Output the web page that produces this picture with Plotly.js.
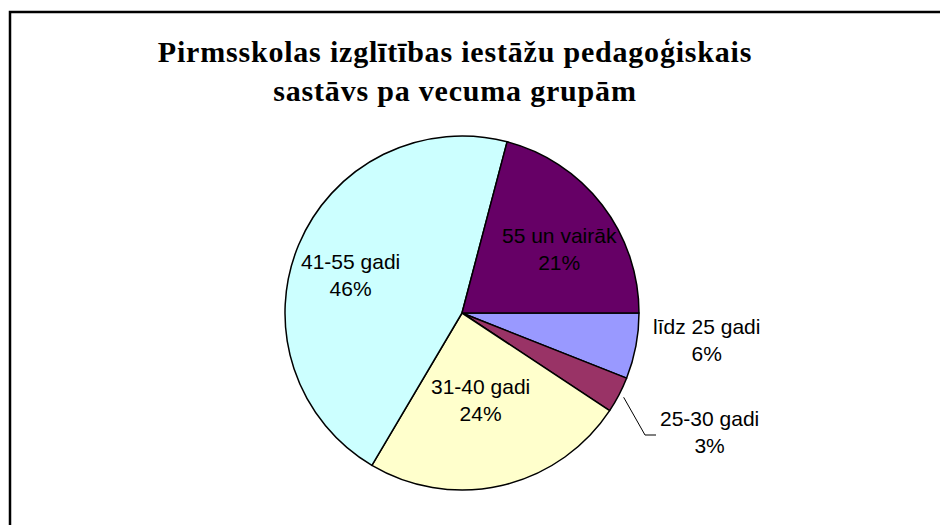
<!DOCTYPE html>
<html>
<head>
<meta charset="utf-8">
<script src="https://cdn.plot.ly/plotly-3.0.1.min.js"></script>
<style>
html,body{margin:0;padding:0;background:#fff;}
#chart{width:940px;height:525px;}
#chart .gtitle{letter-spacing:0.8px;}
</style>
</head>
<body>
<div id="chart"></div>
<script>
// ---- data ----
const categories = ['līdz 25 gadi', '25-30 gadi', '31-40 gadi', '41-55 gadi', '55 un vairāk'];
const shares = [6.0, 3.3, 24.2, 45.6, 20.9];
const sliceColors = ['#9999FF', '#993366', '#FFFFCC', '#CCFFFF', '#660066'];
const chartTitle = 'Pirmsskolas izglītības iestāžu pedagoģiskais<br>sastāvs pa vecuma grupām';

// ---- layout geometry (pixels) ----
const W = 940, H = 525;
const CX = 462, CY = 313, R = 177;
const ROT = 90; // first slice starts at 3 o'clock, clockwise
// label placement: radius factor and angle offset (deg) relative to slice mid-angle
const labelPlace = [
  {r: 1.39, da: -4.5},
  {r: 1.55, da: -1.9},
  {r: 0.50, da: 1.2},
  {r: 0.663, da: -3.8},
  {r: 0.657, da: 4.2}
];
const leaderIndex = 1;

const px = x => x / W;
const py = y => 1 - y / H;

const total = shares.reduce((a, b) => a + b, 0);
let acc = 0;
const mids = shares.map(v => {
  const start = ROT + acc / total * 360;
  acc += v;
  const end = ROT + acc / total * 360;
  return (start + end) / 2;
});
function polar(angDeg, rf) {
  const a = angDeg * Math.PI / 180;
  return [CX + R * rf * Math.sin(a), CY - R * rf * Math.cos(a)];
}

const annotations = categories.map((c, i) => {
  const p = polar(mids[i] + labelPlace[i].da, labelPlace[i].r);
  return {
    xref: 'paper', yref: 'paper', x: px(p[0]), y: py(p[1]),
    xanchor: 'center', yanchor: 'middle', showarrow: false,
    text: c + '<br>' + Math.round(shares[i] / total * 100) + '%',
    font: {family: 'Liberation Sans, Arial, sans-serif', size: 21, color: '#000'}
  };
});

// leader line for small slice
const e0 = polar(mids[leaderIndex], 1.03);
const e1 = [645, 435];
const e2 = [656, 435];

const shapes = [
  {type: 'rect', xref: 'paper', yref: 'paper', x0: px(10), y0: py(12), x1: px(960), y1: py(545),
   line: {color: '#000', width: 2.5}, fillcolor: 'rgba(0,0,0,0)'},
  {type: 'path', xref: 'paper', yref: 'paper',
   path: `M ${px(e0[0])} ${py(e0[1])} L ${px(e1[0])} ${py(e1[1])} L ${px(e2[0])} ${py(e2[1])}`,
   line: {color: '#000', width: 1}}
];

const trace = {
  type: 'pie',
  labels: categories,
  values: shares,
  sort: false,
  direction: 'clockwise',
  rotation: ROT,
  textinfo: 'none',
  hoverinfo: 'label+percent',
  marker: {colors: sliceColors, line: {color: '#000', width: 1.5}},
  domain: {x: [px(CX - R), px(CX + R)], y: [py(CY + R), py(CY - R)]},
  showlegend: false
};

const layout = {
  width: W, height: H,
  margin: {l: 0, r: 0, t: 0, b: 0},
  paper_bgcolor: '#fff', plot_bgcolor: '#fff',
  title: {
    text: chartTitle,
    x: px(455), xanchor: 'center', xref: 'paper',
    y: py(62), yanchor: 'top', yref: 'paper',
    font: {family: 'Liberation Serif, Times New Roman, serif', size: 30, color: '#000', weight: 'bold'}
  },
  annotations: annotations,
  shapes: shapes,
  showlegend: false
};

Plotly.newPlot('chart', [trace], layout, {displayModeBar: false, staticPlot: true});
</script>
</body>
</html>
